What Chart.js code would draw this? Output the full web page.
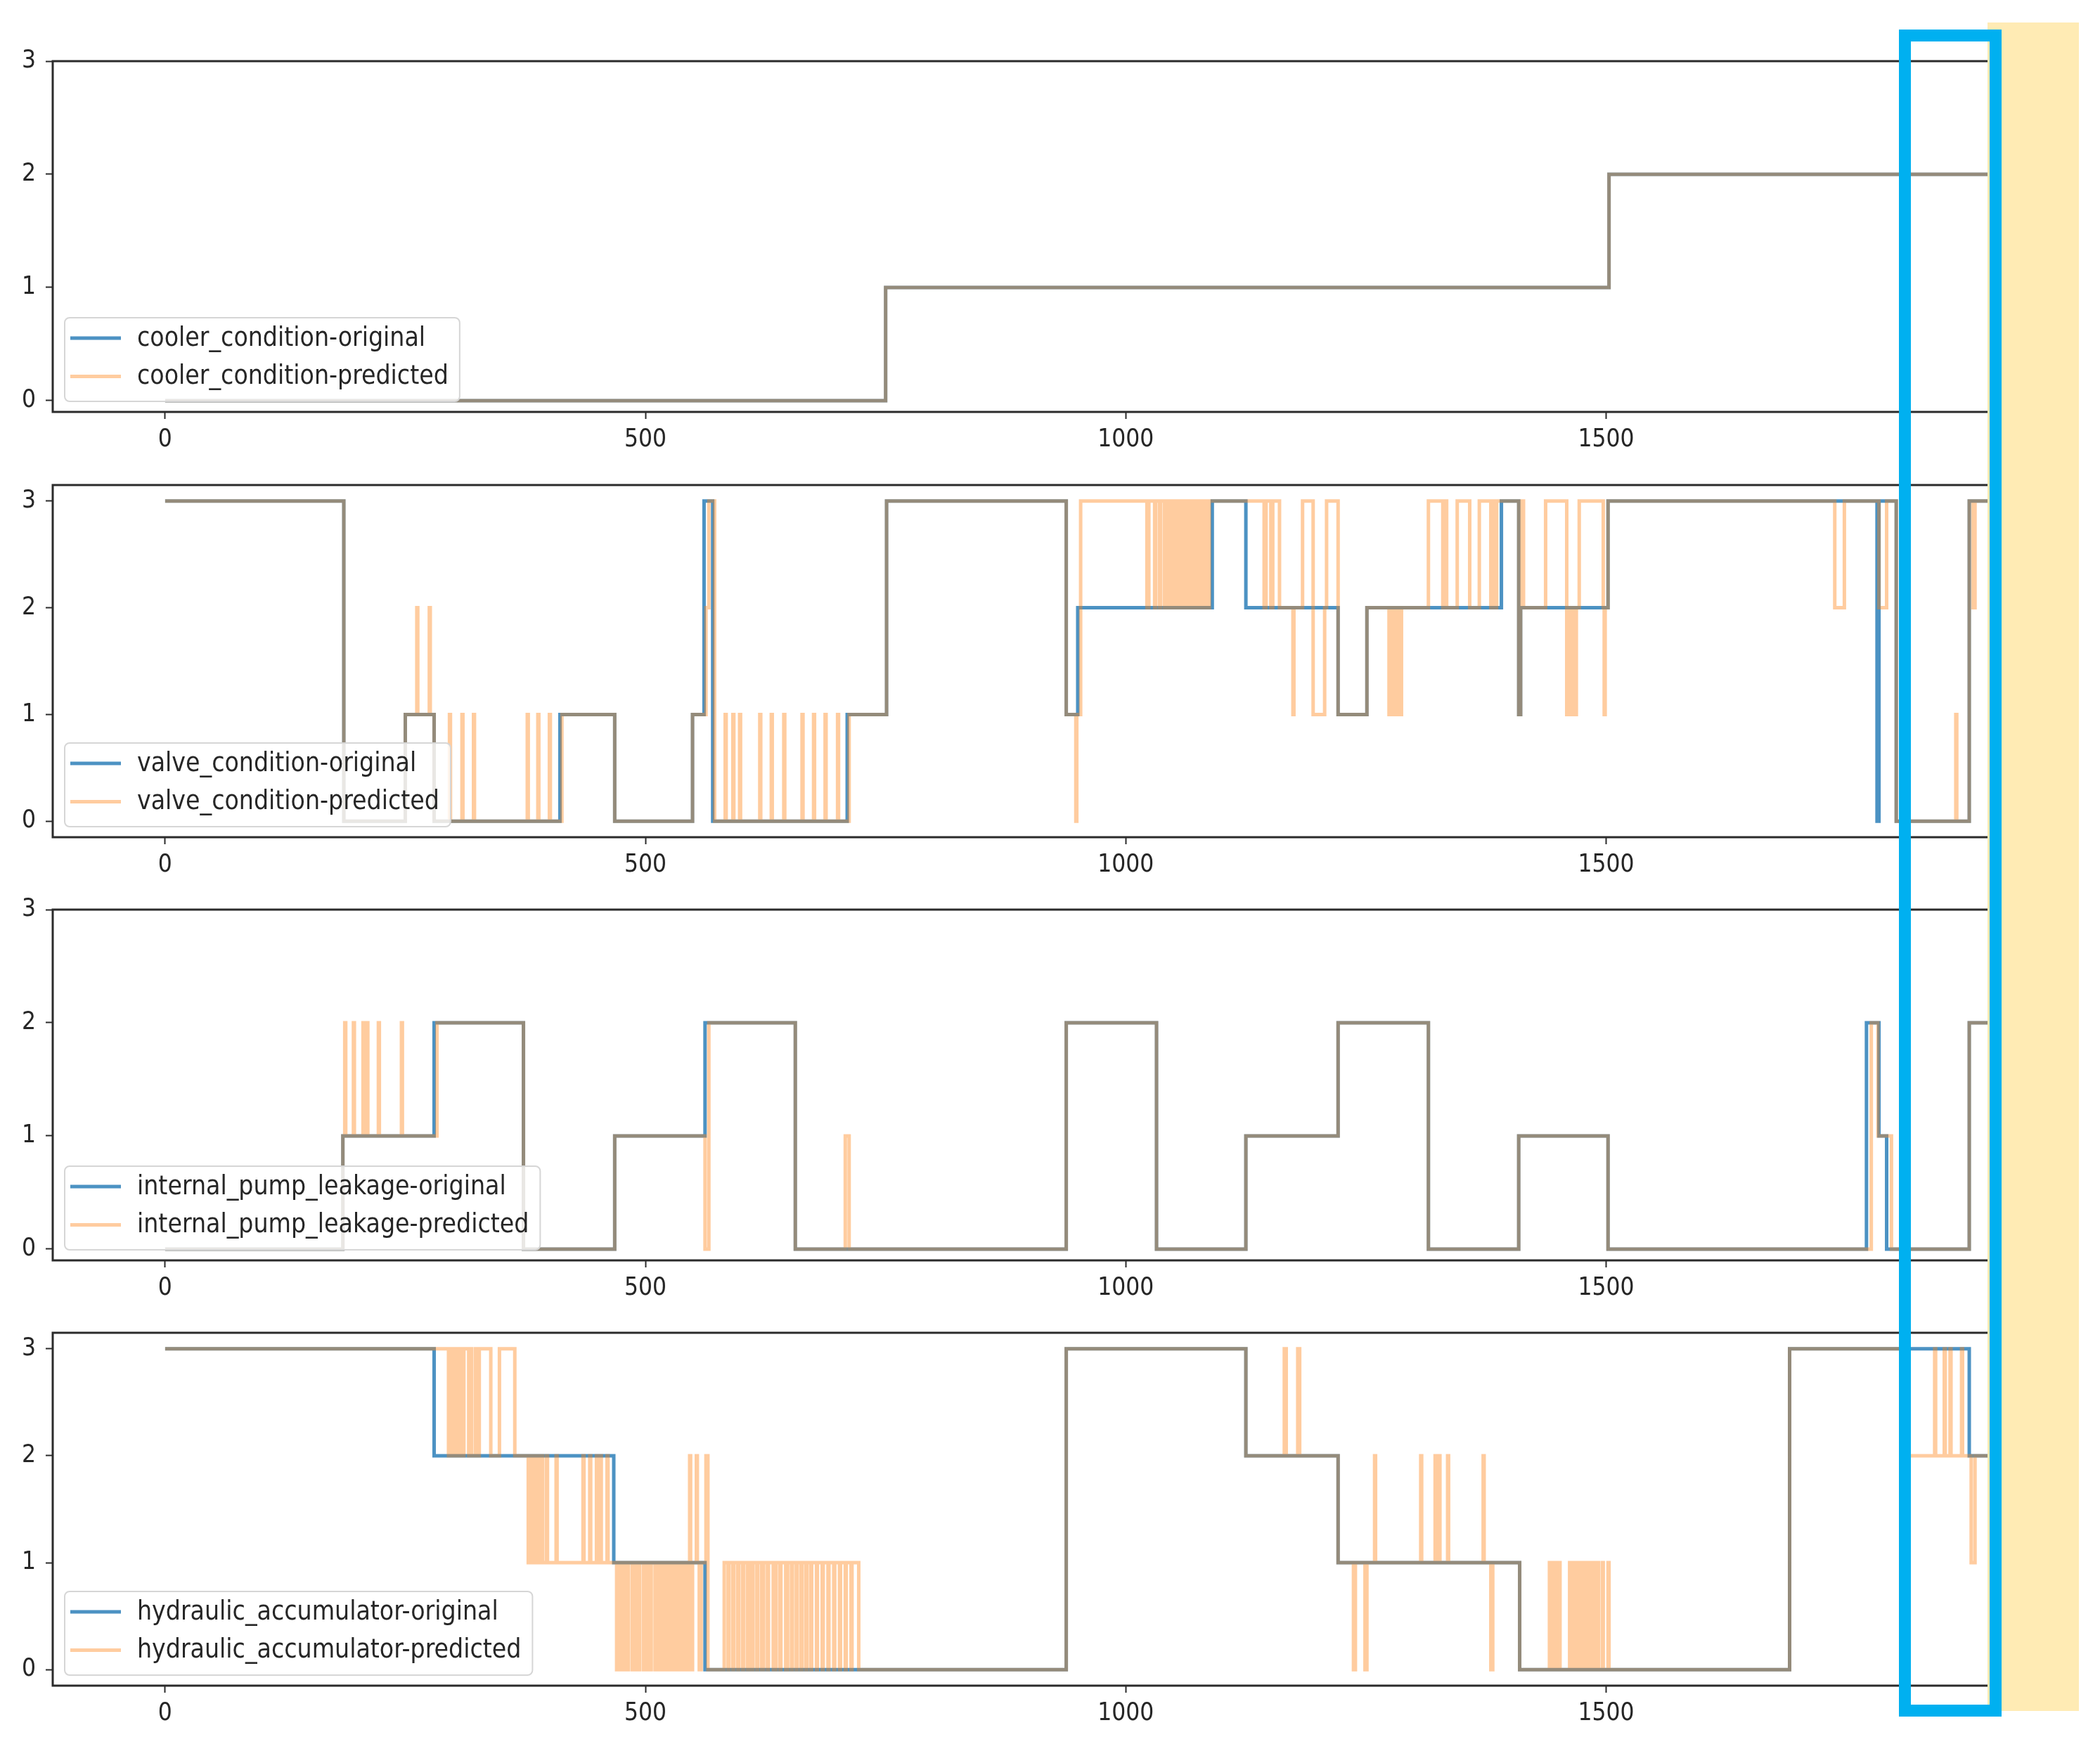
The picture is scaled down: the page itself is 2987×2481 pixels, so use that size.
<!DOCTYPE html>
<html>
<head>
<meta charset="utf-8">
<script src="https://cdn.jsdelivr.net/npm/chart.js@4.4.0/dist/chart.umd.min.js"></script>
<style>
  html, body { margin: 0; padding: 0; background: #fff; }
  body { width: 2987px; height: 2481px; position: relative; overflow: hidden; }
  .painel { position: absolute; left: 0; }
  #faixa { position: absolute; left: 2827px; top: 32px; width: 130px; height: 2402px; background: #ffebb4; }
  #moldura { position: absolute; left: 2701px; top: 42px; width: 146px; height: 2400px;
             border: 17px solid #00b0f0; box-sizing: border-box; }
</style>
</head>
<body>
<div id="graficos"></div>
<div id="faixa"></div>
<div id="moldura"></div>
<script>
// eixos
const xTicks = [0, 500, 1000, 1500];
const yTicks = [0, 1, 2, 3];

// cada par = [amostra onde comeca, classe]
const coolerOriginal = [[0, 0], [750, 1], [1503, 2], [1960, 2]];
const coolerPredicted = [[0, 0], [750, 1], [1503, 2], [1960, 2]];

const valveOriginal = [
  [0, 3], [186, 0], [250, 1], [280, 0], [411, 1], [468, 0], [549, 1], [561, 3], [570, 0],
  [710, 1], [751, 3], [938, 1], [950, 2], [1090, 3], [1125, 2], [1221, 1], [1251, 2],
  [1391, 3], [1409, 1], [1411, 2], [1502, 3], [1782, 0], [1784, 3], [1802, 0], [1878, 3], [1960, 3]
];
const valvePredicted = [
  [0, 3], [186, 0], [250, 1], [262, 2], [263, 1], [275, 2], [276, 1], [280, 0],
  [296, 1], [297, 0], [309, 1], [310, 0], [321, 1], [322, 0], [377, 1], [378, 0], [388, 1], [389, 0],
  [400, 1], [401, 0], [413, 1], [468, 0], [549, 1], [563, 2], [566, 3], [572, 0],
  [583, 1], [584, 0], [591, 1], [592, 0], [598, 1], [599, 0], [619, 1], [620, 0], [631, 1], [632, 0],
  [644, 1], [645, 0], [663, 1], [664, 0], [675, 1], [676, 0], [687, 1], [688, 0], [700, 1], [701, 0],
  [712, 1], [751, 3], [938, 1], [948, 0], [949, 1], [953, 3],
  [1022, 2], [1024, 3], [1030, 2], [1031, 3], [1035, 2], [1036, 3], [1040, 2], [1041, 3],
  [1044, 2], [1046, 3], [1048, 2], [1050, 3], [1052, 2], [1054, 3], [1056, 2], [1058, 3],
  [1061, 2], [1063, 3], [1065, 2], [1067, 3], [1069, 2], [1071, 3], [1073, 2], [1075, 3],
  [1077, 2], [1079, 3], [1081, 2], [1083, 3], [1085, 2], [1087, 3],
  [1144, 2], [1146, 3], [1151, 2], [1153, 3], [1160, 2], [1174, 1], [1175, 2],
  [1184, 3], [1195, 1], [1207, 2], [1209, 3], [1221, 1], [1251, 2],
  [1274, 1], [1276, 2], [1279, 1], [1281, 2], [1284, 1], [1287, 2],
  [1315, 3], [1330, 2], [1331, 3], [1334, 2], [1345, 3], [1358, 2],
  [1368, 3], [1380, 2], [1382, 3], [1384, 2], [1386, 3], [1409, 1], [1411, 3], [1414, 2],
  [1437, 3], [1459, 1], [1461, 2], [1463, 1], [1465, 2], [1467, 1], [1469, 2], [1472, 3],
  [1497, 2], [1498, 1], [1499, 2], [1502, 3], [1738, 2], [1748, 3], [1784, 2], [1792, 3],
  [1802, 0], [1864, 1], [1865, 0], [1878, 3], [1882, 2], [1884, 3], [1960, 3]
];

const pumpOriginal = [
  [0, 0], [185, 1], [280, 2], [373, 0], [468, 1], [562, 2], [656, 0], [938, 2], [1032, 0],
  [1125, 1], [1221, 2], [1315, 0], [1409, 1], [1502, 0], [1771, 2], [1784, 1], [1792, 0],
  [1878, 2], [1960, 2]
];
const pumpPredicted = [
  [0, 0], [185, 1], [187, 2], [188, 1], [196, 2], [197, 1], [206, 2], [207, 1], [210, 2], [211, 1],
  [222, 2], [223, 1], [246, 2], [247, 1], [283, 2], [373, 0], [468, 1], [562, 0], [566, 2],
  [656, 0], [708, 1], [712, 0], [938, 2], [1032, 0], [1125, 1], [1221, 2], [1315, 0],
  [1409, 1], [1502, 0], [1776, 2], [1783, 1], [1797, 0], [1878, 2], [1960, 2]
];

const hydraulicOriginal = [
  [0, 3], [280, 2], [467, 1], [562, 0], [938, 3], [1125, 2], [1221, 1], [1410, 0],
  [1691, 3], [1878, 2], [1960, 2]
];
const hydraulicPredicted = [
  [0, 3], [295, 2], [297, 3], [299, 2], [302, 3], [304, 2], [307, 3], [309, 2], [311, 3],
  [316, 2], [317, 3], [319, 2], [323, 3], [324, 2], [327, 3], [339, 2], [348, 3], [364, 2],
  [378, 1], [380, 2], [381, 1], [383, 2], [384, 1], [386, 2], [387, 1], [389, 2], [390, 1],
  [392, 2], [393, 1], [397, 2], [398, 1], [407, 2], [408, 1], [435, 2], [436, 1], [442, 2],
  [443, 1], [449, 2], [450, 1], [453, 2], [454, 1], [460, 2], [461, 1],
  [470, 0], [472, 1], [475, 0], [477, 1], [479, 0], [482, 1], [486, 0], [488, 1], [491, 0],
  [494, 1], [498, 0], [500, 1], [503, 0], [506, 1], [510, 0], [512, 1], [514, 0], [517, 1],
  [519, 0], [521, 1], [524, 0], [526, 1], [528, 0], [531, 1], [533, 0], [535, 1], [538, 0],
  [540, 1], [542, 0], [544, 1], [546, 2], [547, 0], [549, 1], [553, 2], [554, 1], [556, 0],
  [558, 1], [563, 2], [565, 0],
  [582, 1], [586, 0], [587, 1], [591, 0], [592, 1], [596, 0], [597, 1], [601, 0], [602, 1],
  [606, 0], [608, 1], [610, 0], [612, 1], [616, 0], [617, 1], [621, 0], [623, 1], [627, 0],
  [628, 1], [633, 0], [636, 1], [640, 0], [641, 1], [646, 0], [648, 1], [652, 0], [653, 1],
  [657, 0], [658, 1], [662, 0], [663, 1], [667, 0], [668, 1], [672, 0], [673, 1], [678, 0],
  [679, 1], [684, 0], [685, 1], [690, 0], [691, 1], [696, 0], [697, 1], [702, 0], [703, 1],
  [708, 0], [709, 1], [714, 0], [715, 1], [722, 0],
  [938, 3], [1125, 2], [1165, 3], [1167, 2], [1179, 3], [1181, 2], [1221, 1], [1237, 0],
  [1239, 1], [1249, 0], [1251, 1], [1259, 2], [1260, 1], [1307, 2], [1308, 1], [1322, 2],
  [1323, 1], [1326, 2], [1327, 1], [1335, 2], [1336, 1], [1372, 2], [1373, 1], [1380, 0],
  [1382, 1], [1410, 0],
  [1441, 1], [1443, 0], [1446, 1], [1448, 0], [1451, 1], [1452, 0], [1462, 1], [1464, 0],
  [1466, 1], [1468, 0], [1470, 1], [1472, 0], [1474, 1], [1476, 0], [1478, 1], [1480, 0],
  [1482, 1], [1484, 0], [1486, 1], [1488, 0], [1491, 1], [1492, 0], [1496, 1], [1497, 0],
  [1502, 1], [1503, 0],
  [1691, 3], [1812, 2], [1842, 3], [1843, 2], [1852, 3], [1853, 2], [1858, 3], [1859, 2],
  [1870, 3], [1871, 2], [1880, 1], [1884, 2], [1960, 2]
];

const nomes = ['cooler_condition', 'valve_condition', 'internal_pump_leakage', 'hydraulic_accumulator'];

const azul = 'rgba(31, 119, 180, 0.8)';
const laranja = 'rgba(255, 127, 14, 0.4)';
const corTexto = '#262626';
const corEixo = '#2b2b2b';
const familia = '"DejaVu Sans Condensed", "DejaVu Sans"';
const fonte = { family: familia, size: 35, lineHeight: 1 };

// posicao das molduras no quadro (px)
const paineis = [
  { nome: nomes[0], original: coolerOriginal, previsto: coolerPredicted, topo: 87, base: 586, yMin: -0.1, yMax: 3 },
  { nome: nomes[1], original: valveOriginal, previsto: valvePredicted, topo: 690, base: 1191, yMin: -0.15, yMax: 3.15 },
  { nome: nomes[2], original: pumpOriginal, previsto: pumpPredicted, topo: 1294, base: 1793, yMin: -0.1, yMax: 3 },
  { nome: nomes[3], original: hydraulicOriginal, previsto: hydraulicPredicted, topo: 1896, base: 2398, yMin: -0.15, yMax: 3.15 }
];

const MARGEM_TOPO = 40;
const ALTURA_X = 70;
const LARGURA_Y = 75;

function paraPontos(pares) {
  return pares.map(([x, y]) => ({ x: x, y: y }));
}

// moldura preta (esquerda, topo, base)
const molduraEixos = {
  id: 'molduraEixos',
  afterDraw(chart) {
    const { ctx, chartArea: a } = chart;
    ctx.save();
    ctx.strokeStyle = corEixo;
    ctx.lineWidth = 3;
    ctx.beginPath();
    ctx.moveTo(a.right + 2, a.top);
    ctx.lineTo(a.left, a.top);
    ctx.lineTo(a.left, a.bottom);
    ctx.lineTo(a.right + 2, a.bottom);
    ctx.stroke();
    ctx.restore();
  }
};

// legenda no canto inferior esquerdo, como no matplotlib
const legendaInterna = {
  id: 'legendaInterna',
  afterDatasetsDraw(chart) {
    const { ctx, chartArea: a } = chart;
    const ds = chart.data.datasets;
    ctx.save();
    ctx.font = '37px ' + familia;
    const larguraTexto = Math.max(...ds.map(d => ctx.measureText(d.label).width));
    const x0 = a.left + 17;
    const alt = 119;
    const y0 = a.bottom - 15 - alt;
    const larg = 103 + larguraTexto + 16;

    ctx.beginPath();
    ctx.roundRect(x0, y0, larg, alt, 7);
    ctx.fillStyle = 'rgba(255, 255, 255, 0.8)';
    ctx.fill();
    ctx.strokeStyle = '#d6d6d6';
    ctx.lineWidth = 2;
    ctx.stroke();

    ds.forEach((d, i) => {
      const yl = y0 + 29 + i * 54.5;
      ctx.beginPath();
      ctx.moveTo(x0 + 8, yl);
      ctx.lineTo(x0 + 80, yl);
      ctx.strokeStyle = d.borderColor;
      ctx.lineWidth = 5;
      ctx.stroke();
      ctx.fillStyle = corTexto;
      ctx.textBaseline = 'middle';
      ctx.textAlign = 'left';
      ctx.fillText(d.label, x0 + 103, yl + 1);
    });
    ctx.restore();
  }
};

function criarPainel(p) {
  const caixa = document.createElement('div');
  caixa.className = 'painel';
  caixa.style.top = (p.topo - MARGEM_TOPO) + 'px';
  const canvas = document.createElement('canvas');
  canvas.width = 2827;
  canvas.height = (p.base - p.topo) + MARGEM_TOPO + ALTURA_X;
  canvas.style.width = canvas.width + 'px';
  canvas.style.height = canvas.height + 'px';
  caixa.appendChild(canvas);
  document.getElementById('graficos').appendChild(caixa);

  new Chart(canvas.getContext('2d'), {
    type: 'line',
    data: {
      datasets: [
        {
          label: p.nome + '-original',
          data: paraPontos(p.original),
          borderColor: azul,
          borderWidth: 5,
          stepped: true,
          pointRadius: 0,
          fill: false,
          order: 2
        },
        {
          label: p.nome + '-predicted',
          data: paraPontos(p.previsto),
          borderColor: laranja,
          borderWidth: 5,
          stepped: true,
          pointRadius: 0,
          fill: false,
          order: 1
        }
      ]
    },
    options: {
      responsive: false,
      animation: false,
      devicePixelRatio: 1,
      layout: { padding: { top: MARGEM_TOPO, left: 0, right: 0, bottom: 0 } },
      plugins: {
        legend: { display: false },
        tooltip: { enabled: false }
      },
      scales: {
        x: {
          type: 'linear',
          min: -117,
          max: 1897,
          afterBuildTicks: s => { s.ticks = xTicks.map(v => ({ value: v })); },
          afterFit: s => { s.height = ALTURA_X; },
          ticks: {
            font: fonte, color: corTexto, padding: 12, maxRotation: 0, autoSkip: false, includeBounds: false,
            callback: v => String(v)
          },
          grid: { drawOnChartArea: false, drawTicks: true, tickLength: 10, tickColor: corEixo, tickWidth: 2 },
          border: { display: false }
        },
        y: {
          min: p.yMin,
          max: p.yMax,
          afterBuildTicks: s => { s.ticks = yTicks.map(v => ({ value: v })); },
          afterFit: s => { s.width = LARGURA_Y; },
          ticks: { font: fonte, color: corTexto, padding: 14, includeBounds: false, callback: v => String(v) },
          grid: { drawOnChartArea: false, drawTicks: true, tickLength: 10, tickColor: corEixo, tickWidth: 2 },
          border: { display: false }
        }
      }
    },
    plugins: [legendaInterna, molduraEixos]
  });
}

paineis.forEach(criarPainel);
</script>
</body>
</html>
